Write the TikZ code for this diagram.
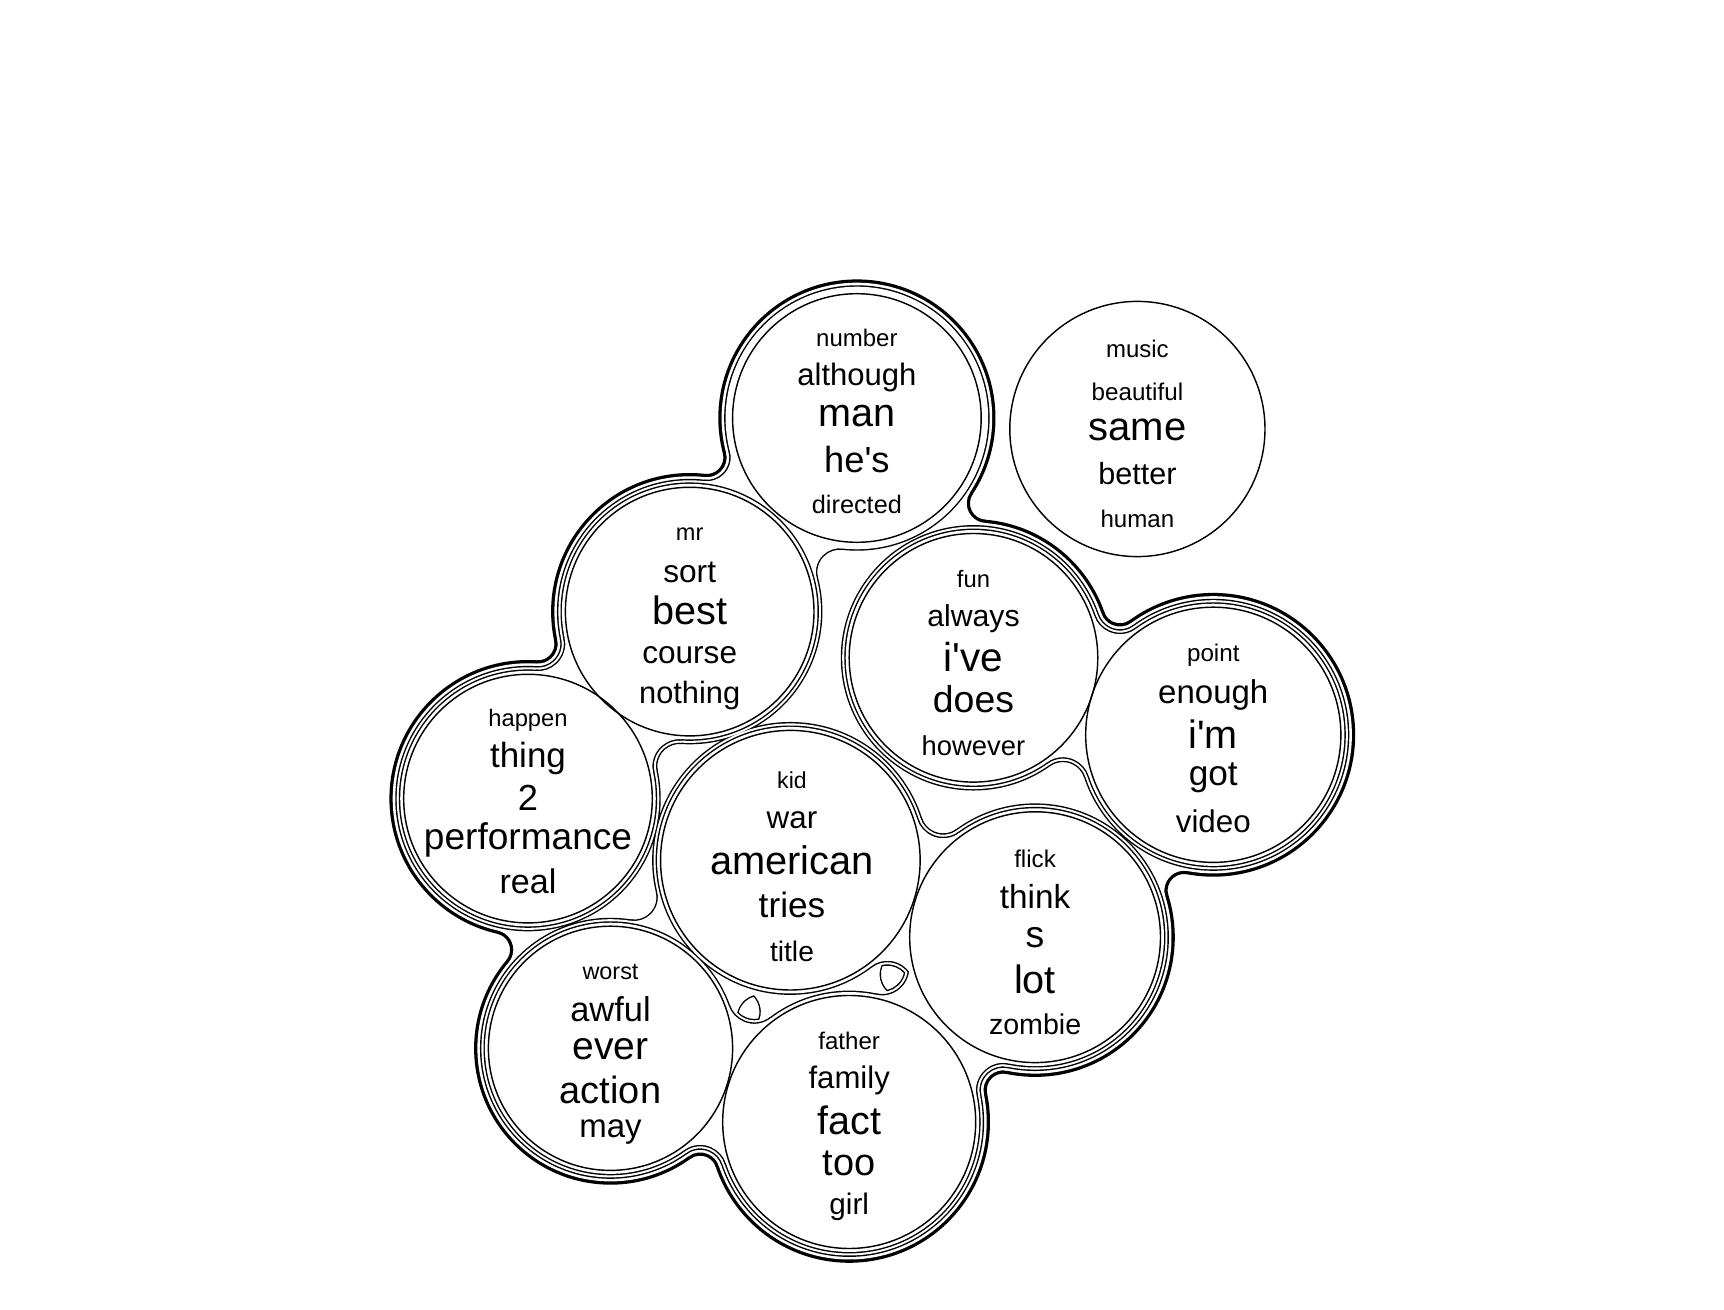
\documentclass[tikz,border=0pt]{standalone}
\usepackage{fontspec}
\newfontfamily\lib{Liberation Sans}
% circle data: centre X,Y, radius R, contour base radius Q
\def\AX{779}\def\AY{380}\def\AR{113}\def\AQ{113}
\def\BX{1034}\def\BY{390}\def\BR{116}\def\BQ{116}
\def\CX{627}\def\CY{556}\def\CR{113}\def\CQ{113}
\def\DX{885}\def\DY{598}\def\DR{113}\def\DQ{113}
\def\EX{1103}\def\EY{668}\def\ER{116}\def\EQ{116}
\def\FX{480}\def\FY{726}\def\FR{113}\def\FQ{113}
\def\GX{718.5}\def\GY{782}\def\GR{118}\def\GQ{118}
\def\HX{941}\def\HY{852}\def\HR{114}\def\HQ{114}
\def\IX{555}\def\IY{953}\def\IR{111}\def\IQ{111}
\def\JX{772}\def\JY{1020}\def\JR{115}\def\JQ{115}
\def\KK{28}
\newcommand\dsk[2]{%
  \edef\dskr{\fpeval{\csname#1Q\endcsname+#2}}%
  \fill (\csname#1X\endcsname,\csname#1Y\endcsname) circle[radius=\dskr pt];}
% smooth fillet region between two dilated disks
\newcommand\fil[3]{%
  \edef\fxa{\csname#1X\endcsname}\edef\fya{\csname#1Y\endcsname}%
  \edef\fxb{\csname#2X\endcsname}\edef\fyb{\csname#2Y\endcsname}%
  \edef\fLA{\fpeval{\csname#1Q\endcsname+\KK}}%
  \edef\fLB{\fpeval{\csname#2Q\endcsname+\KK}}%
  \edef\fD{\fpeval{sqrt((\fxb-\fxa)^2+(\fyb-\fya)^2)}}%
  \edef\fux{\fpeval{(\fxb-\fxa)/\fD}}%
  \edef\fuy{\fpeval{(\fyb-\fya)/\fD}}%
  \edef\fxx{\fpeval{(\fD^2+\fLA^2-\fLB^2)/(2*\fD)}}%
  \edef\fhq{\fpeval{\fLA^2-\fxx^2}}%
  \edef\frr{\fpeval{\KK-(#3)}}%
  \ifnum\fpeval{\fhq>\frr^2}=1\relax
    \edef\fhh{\fpeval{sqrt(\fhq)}}%
    \edef\fmx{\fpeval{\fxa+\fxx*\fux}}\edef\fmy{\fpeval{\fya+\fxx*\fuy}}%
    \edef\fpx{\fpeval{\fmx-\fhh*\fuy}}\edef\fpy{\fpeval{\fmy+\fhh*\fux}}%
    \edef\fqx{\fpeval{\fmx+\fhh*\fuy}}\edef\fqy{\fpeval{\fmy-\fhh*\fux}}%
    \edef\tApx{\fpeval{round(\fpx+\frr*(\fxa-\fpx)/\fLA,3)}}%
    \edef\tApy{\fpeval{round(\fpy+\frr*(\fya-\fpy)/\fLA,3)}}%
    \edef\tBqx{\fpeval{round(\fqx+\frr*(\fxb-\fqx)/\fLB,3)}}%
    \edef\tBqy{\fpeval{round(\fqy+\frr*(\fyb-\fqy)/\fLB,3)}}%
    \edef\aAp{\fpeval{atand(\fpy-\fya,\fxa-\fpx)}}%
    \edef\aBp{\fpeval{atand(\fpy-\fyb,\fxb-\fpx)}}%
    \edef\fdp{\fpeval{\aBp-\aAp}}%
    \edef\fdp{\fpeval{round(\fdp-360*round(\fdp/360),3)}}%
    \edef\aAq{\fpeval{atand(\fqy-\fya,\fxa-\fqx)}}%
    \edef\aBq{\fpeval{atand(\fqy-\fyb,\fxb-\fqx)}}%
    \edef\fdq{\fpeval{\aAq-\aBq}}%
    \edef\fdq{\fpeval{round(\fdq-360*round(\fdq/360),3)}}%
    \edef\sAp{\fpeval{round(\aAp,3)}}\edef\sBq{\fpeval{round(\aBq,3)}}%
    \fill (\fxa,\fya) -- (\tApx,\tApy)
      arc[start angle=\sAp, delta angle=\fdp, radius=\frr pt]
      -- (\fxb,\fyb) -- (\tBqx,\tBqy)
      arc[start angle=\sBq, delta angle=\fdq, radius=\frr pt] -- cycle;
  \fi}
% one contour level: #1 offset, #2 line width, #3 members, #4 pairs, #5 extra fill
\newcommand\lvl[5]{%
  \begin{scope}[color=black,fill=black]
    \edef\lvE{\fpeval{#1+#2/2}}%
    \foreach \m in {#3}{\dsk{\m}{\lvE}}%
    \foreach \ia/\ib in {#4}{\fil{\ia}{\ib}{\lvE}}%
    #5
  \end{scope}
  \begin{scope}[color=white,fill=white]
    \edef\lvE{\fpeval{#1-#2/2}}%
    \foreach \m in {#3}{\dsk{\m}{\lvE}}%
    \foreach \ia/\ib in {#4}{\fil{\ia}{\ib}{\lvE}}%
    #5
  \end{scope}}
\begin{document}
\begin{tikzpicture}[x=1pt,y=-1pt,
  wrd/.style={inner sep=0pt,yshift=-1.5pt,font=\lib\fontsize{#1}{#1}\selectfont},
  bubble/.style={draw=black,line width=1.3pt}]
\useasboundingbox (0,0) rectangle (1567.3,1190.9);
% outer contour (thick), whole group
\lvl{11.5}{3}{A,C,D,E,F,G,H,I,J}{A/C,A/D,D/E,E/H,H/J,J/I,I/F,F/C}%
  {\fill (\AX,\AY)--(\DX,\DY)--(\EX,\EY)--(\HX,\HY)--(\JX,\JY)--(\IX,\IY)--(\FX,\FY)--(\CX,\CY)--cycle;}
% second contour: groups {number,mr,happen}, {fun,point}, {kid,flick,father,worst}
\lvl{7}{1.3}{A,C,D,E,F,G,H,I,J}{A/C,C/F,D/E,G/H,G/I,G/J,H/J,I/J}{}
% first contour
\lvl{3.8}{1.3}{C,D,E,F,G,H,I,J}{C/F,D/E,G/H,H/J,I/J}{}
% bubbles
\foreach \c in {A,B,C,D,E,F,G,H,I,J}{
  \draw[bubble] (\csname\c X\endcsname,\csname\c Y\endcsname) circle[radius=\csname\c R\endcsname pt];}
% words
\node[wrd=21.8] (a1) at (779,306) {number};
\node[wrd=28.2] (a2) at (779,342) {although};
\node[wrd=36]   (a3) at (779,377) {man};
\node[wrd=33]   (a4) at (779,416) {he's};
\node[wrd=23]   (a5) at (779,457) {directed};
\node[wrd=21.8] (b1) at (1034,316) {music};
\node[wrd=22]   (b2) at (1034,355) {beautiful};
\node[wrd=36.4] (b3) at (1034,389) {same};
\node[wrd=27.8] (b4) at (1034,429) {better};
\node[wrd=21.9] (b5) at (1034,470) {human};
\node[wrd=21.4] (c1) at (627,484) {mr};
\node[wrd=28.8] (c2) at (627,519) {sort};
\node[wrd=36]   (c3) at (627,553) {best};
\node[wrd=28.7] (c4) at (627,594) {course};
\node[wrd=28]   (c5) at (627,631) {nothing};
\node[wrd=21.6] (d1) at (885,525) {fun};
\node[wrd=27.5] (d2) at (885,561) {always};
\node[wrd=36.8] (d3) at (885,596) {i've};
\node[wrd=34]   (d4) at (885,634) {does};
\node[wrd=24.9] (d5) at (885,676) {however};
\node[wrd=22]   (e1) at (1103,594) {point};
\node[wrd=30]   (e2) at (1103,630) {enough};
\node[wrd=36]   (e3) at (1103,666) {i'm};
\node[wrd=32]   (e4) at (1103,706) {got};
\node[wrd=28.5] (e5) at (1103,745) {video};
\node[wrd=21.6] (f1) at (480,653) {happen};
\node[wrd=31.8] (f2) at (480,688) {thing};
\node[wrd=33]   (f3) at (480,724) {2};
\node[wrd=33.7] (f4) at (480,762) {performance};
\node[wrd=31]   (f5) at (480,800) {real};
\node[wrd=21]   (g1) at (720,708) {kid};
\node[wrd=28.5] (g2) at (720,744) {war};
\node[wrd=36.2] (g3) at (720,781) {american};
\node[wrd=32]   (g4) at (720,821) {tries};
\node[wrd=25.7] (g5) at (720,863) {title};
\node[wrd=22]   (h1) at (941,779) {flick};
\node[wrd=30.3] (h2) at (941,814) {think};
\node[wrd=34]   (h3) at (941,851) {s};
\node[wrd=36]   (h4) at (941,889) {lot};
\node[wrd=26]   (h5) at (941,930) {zombie};
\node[wrd=21.3] (i1) at (555,882) {worst};
\node[wrd=31.3] (i2) at (555,916) {awful};
\node[wrd=35.5] (i3) at (555,952) {ever};
\node[wrd=34.5] (i4) at (555,989) {action};
\node[wrd=30]   (i5) at (555,1028) {may};
\node[wrd=21.9] (j1) at (772,945) {father};
\node[wrd=28.3] (j2) at (772,981) {family};
\node[wrd=36]   (j3) at (772,1017) {fact};
\node[wrd=34.5] (j4) at (772,1056) {too};
\node[wrd=27]   (j5) at (772,1096) {girl};
\end{tikzpicture}
\end{document}
